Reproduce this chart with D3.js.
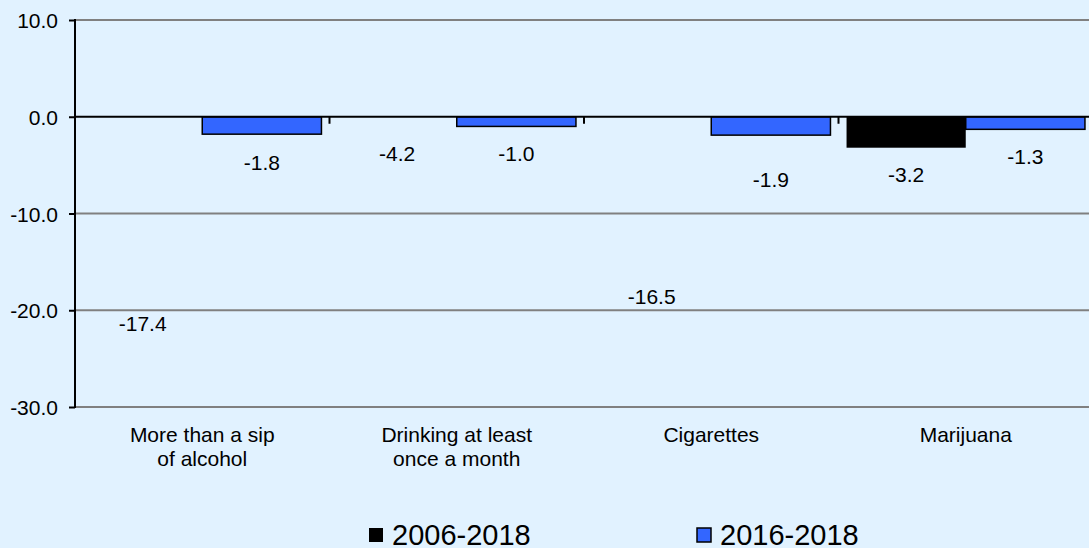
<!DOCTYPE html>
<html><head><meta charset="utf-8">
<script src="https://cdn.jsdelivr.net/npm/d3@7"></script>
<style>
html,body{margin:0;padding:0;background:#e1f2ff;}
svg{display:block;font-family:"Liberation Sans",Arial,sans-serif;}
</style></head>
<body>
<svg id="c" width="1089" height="548"></svg>
<script>
const categories = ["More than a sip\nof alcohol", "Drinking at least\nonce a month", "Cigarettes", "Marijuana"];
const seriesNames = ["2006-2018", "2016-2018"];
const values2006 = [-17.4, -4.2, -16.5, -3.2];
const values2016 = [-1.8, -1.0, -1.9, -1.3];
const barShown2006 = [false, false, false, true];
const yTicks = [10, 0, -10, -20, -30];

// layout / style (not data)
const labelNudge2006 = [38, -4, 20, 27];
const labelNudge2016 = [28, 27, 44, 27];
const colors = ["#000000", "#3366ff"];
const FS = 21;

const svg = d3.select("#c");
const m = {left: 75, top: 20, right: 1093, bottom: 407};
const x = d3.scaleBand().domain(d3.range(categories.length)).range([m.left, m.right]).paddingInner(0).paddingOuter(0);
const inner = d3.scaleBand().domain([0,1]).range([0, x.bandwidth()]).paddingOuter(0.0675).paddingInner(0);
const y = d3.scaleLinear().domain([-30, 10]).range([m.bottom, m.top]);
const fmt = v => d3.format(".1f")(v).replace("\u2212","-");

svg.append("rect").attr("width",1089).attr("height",548).attr("fill","#e1f2ff");

// gridlines
svg.append("g").selectAll("line").data(yTicks.filter(d=>d!==0)).join("line")
  .attr("x1", m.left).attr("x2", m.right).attr("y1", d=>y(d)).attr("y2", d=>y(d))
  .attr("stroke","#808080").attr("stroke-width",2);

// y axis
const yAxis = d3.axisLeft(y).tickValues(yTicks).tickFormat(fmt).tickSize(6).tickPadding(11);
const ga = svg.append("g").attr("transform",`translate(${m.left},0)`).call(yAxis);
ga.select(".domain").remove();
ga.selectAll(".tick line").attr("stroke","#000").attr("stroke-width",2);
ga.selectAll(".tick text").attr("font-size",FS).attr("fill","#000").attr("dy","0.36em")
  .attr("font-family","Liberation Sans, Arial, sans-serif");
svg.append("line").attr("x1",m.left).attr("x2",m.left).attr("y1",m.top-1).attr("y2",m.bottom+1).attr("stroke","#000").attr("stroke-width",2);

// bars 2006
svg.append("g").selectAll("rect").data(values2006.map((v,i)=>({v,i})).filter(d=>barShown2006[d.i])).join("rect")
  .attr("x", d=>x(d.i)+inner(0)).attr("width", inner.bandwidth())
  .attr("y", d=>y(Math.max(0,d.v))).attr("height", d=>Math.abs(y(d.v)-y(0)))
  .attr("fill", colors[0]);
// bars 2016
svg.append("g").selectAll("rect").data(values2016.map((v,i)=>({v,i}))).join("rect")
  .attr("x", d=>x(d.i)+inner(1)).attr("width", inner.bandwidth())
  .attr("y", d=>y(Math.max(0,d.v))).attr("height", d=>Math.abs(y(d.v)-y(0)))
  .attr("fill", colors[1]).attr("stroke","#000").attr("stroke-width",1.5);

// zero line
svg.append("line").attr("x1",m.left).attr("x2",m.right).attr("y1",y(0)).attr("y2",y(0)).attr("stroke","#000").attr("stroke-width",2);
svg.append("g").selectAll("line").data(d3.range(1,categories.length)).join("line")
  .attr("x1", d=>x(d)).attr("x2", d=>x(d)).attr("y1", y(0)).attr("y2", y(0)+7)
  .attr("stroke","#000").attr("stroke-width",2);

// value labels
svg.append("g").selectAll("text").data(values2006.map((v,i)=>({v,i}))).join("text")
  .attr("x", d=>x(d.i)+inner(0)+inner.bandwidth()/2).attr("y", d=>y(d.v)+labelNudge2006[d.i])
  .attr("text-anchor","middle").attr("dominant-baseline","central").attr("font-size",FS).text(d=>fmt(d.v));
svg.append("g").selectAll("text").data(values2016.map((v,i)=>({v,i}))).join("text")
  .attr("x", d=>x(d.i)+inner(1)+inner.bandwidth()/2).attr("y", d=>y(d.v)+labelNudge2016[d.i])
  .attr("text-anchor","middle").attr("dominant-baseline","central").attr("font-size",FS).text(d=>fmt(d.v));

// category labels
const gc = svg.append("g").selectAll("text").data(categories.map((c,i)=>({c,i}))).join("text")
  .attr("x", d=>x(d.i)+x.bandwidth()/2).attr("y", 442).attr("text-anchor","middle").attr("font-size",FS);
gc.each(function(d){
  const t = d3.select(this);
  d.c.split("\n").forEach((line,k)=>{
    t.append("tspan").attr("x", x(d.i)+x.bandwidth()/2).attr("dy", k===0?0:24).text(line);
  });
});

// legend
const legendX = [369, 697];
const lg = svg.append("g").selectAll("g").data(seriesNames.map((s,i)=>({s,i}))).join("g")
  .attr("transform", d=>`translate(${legendX[d.i]},528)`);
lg.append("rect").attr("width",14).attr("height",14).attr("fill",d=>colors[d.i])
  .attr("stroke","#000").attr("stroke-width",d=>d.i===1?1.5:0);
lg.append("text").attr("x",23).attr("y",17).attr("font-size",29).text(d=>d.s);
</script>
</body></html>
